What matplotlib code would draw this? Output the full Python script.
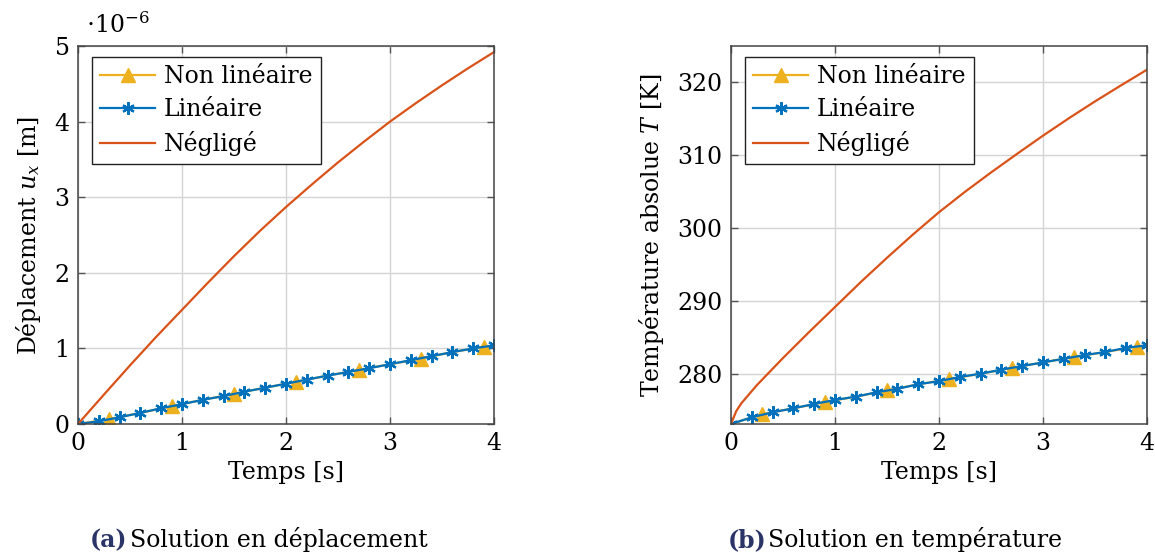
import matplotlib
matplotlib.use("Agg")
import matplotlib.pyplot as plt

plt.rcParams['font.family'] = 'DejaVu Serif'
plt.rcParams['mathtext.fontset'] = 'dejavuserif'

# temps des marqueurs "Linéaire" (pas 0.2 s)
t_lin = [0.0, 0.2, 0.4, 0.6, 0.8, 1.0, 1.2, 1.4, 1.6, 1.8, 2.0,
         2.2, 2.4, 2.6, 2.8, 3.0, 3.2, 3.4, 3.6, 3.8, 4.0]
# déplacement (x1e-6 m) et température (K)
u_lin = [0.0, 0.036, 0.089, 0.147, 0.209, 0.262, 0.32, 0.369, 0.427, 0.48, 0.533,
         0.587, 0.64, 0.689, 0.738, 0.791, 0.844, 0.898, 0.951, 1.0, 1.04]
T_lin = [273.15, 274.07, 274.76, 275.3, 275.9, 276.45, 276.9, 277.5, 277.97, 278.6, 279.03,
         279.6, 280.05, 280.6, 281.1, 281.6, 282.1, 282.6, 283.03, 283.6, 283.95]

# non linéaire (pas 0.3 s)
t_nl = [0.0, 0.3, 0.6, 0.9, 1.2, 1.5, 1.8, 2.1, 2.4, 2.7, 3.0, 3.3, 3.6, 3.9, 4.0]
u_nl = [0.0, 0.065, 0.147, 0.235, 0.32, 0.40, 0.48, 0.56, 0.64, 0.715, 0.791, 0.865, 0.951, 1.02, 1.04]
T_nl = [273.15, 274.5, 275.3, 276.15, 276.9, 277.75, 278.6, 279.3, 280.05, 280.85, 281.6,
        282.35, 283.03, 283.75, 283.95]

# négligé
t_neg_u = [0.0, 0.25, 0.5, 0.75, 1.0, 1.25, 1.5, 1.75, 2.0, 2.25, 2.5, 2.75, 3.0,
           3.25, 3.5, 3.75, 4.0]
u_neg = [0.0, 0.39, 0.775, 1.15, 1.51, 1.87, 2.22, 2.555, 2.87, 3.17, 3.46, 3.735, 4.0,
         4.245, 4.48, 4.705, 4.92]
t_neg_T = [0.0, 0.05, 0.1, 0.25, 0.5, 0.75, 1.0, 1.25, 1.5, 1.75, 2.0, 2.25, 2.5,
           2.75, 3.0, 3.25, 3.5, 3.75, 4.0]
T_neg = [273.15, 274.9, 276.0, 278.5, 282.2, 285.75, 289.2, 292.65, 295.95, 299.15, 302.2,
         305.0, 307.65, 310.2, 312.7, 315.1, 317.4, 319.6, 321.75]

c_nl = '#EDB120'
c_lin = '#0072BD'
c_neg = '#D95319'
fs = 17

fig = plt.figure(figsize=(11.55, 5.55), dpi=100)
ax1 = fig.add_axes([78 / 1155, 131 / 555, 416 / 1155, 378 / 555])
ax2 = fig.add_axes([731 / 1155, 131 / 555, 416 / 1155, 378 / 555])

for ax, y_nl, y_lin, t_neg, y_neg in [(ax1, u_nl, u_lin, t_neg_u, u_neg),
                                      (ax2, T_nl, T_lin, t_neg_T, T_neg)]:
    ax.plot(t_nl, y_nl, color=c_nl, lw=1.6, marker='^', ms=10, markevery=(1, 2),
            label='Non linéaire')
    ax.plot(t_lin, y_lin, color=c_lin, lw=1.6, marker=(6, 2, 0), ms=9, mew=1.6,
            label='Linéaire')
    ax.plot(t_neg, y_neg, color=c_neg, lw=1.6, label='Négligé')
    ax.set_xlim(0, 4)
    ax.set_xticks([0, 1, 2, 3, 4])
    ax.grid(True, color='#d4d4d4', lw=1.0)
    ax.set_axisbelow(True)
    ax.tick_params(direction='in', top=True, right=True, length=5, width=1,
                   color='#555555', labelsize=fs, pad=6)
    for s in ax.spines.values():
        s.set_color('#444444')
        s.set_linewidth(1.1)
    ax.set_xlabel('Temps [s]', fontsize=fs, labelpad=4)
    leg = ax.legend(loc='upper left', fontsize=fs, fancybox=False, framealpha=1,
                    edgecolor='#222222', handlelength=2.3, borderpad=0.35,
                    labelspacing=0.42, handletextpad=0.4, borderaxespad=0,
                    bbox_to_anchor=(0.034, 0.971))
    leg.get_frame().set_linewidth(1.0)

ax1.set_ylim(0, 5)
ax1.set_yticks([0, 1, 2, 3, 4, 5])
ax1.set_ylabel(r'Déplacement $u_x$ [m]', fontsize=fs, labelpad=8)
ax1.text(0.02, 1.02, r'$\cdot 10^{-6}$', transform=ax1.transAxes, fontsize=fs,
         ha='left', va='bottom')

ax2.set_ylim(273.15, 325)
ax2.set_yticks([280, 290, 300, 310, 320])
ax2.set_ylabel(r'Température absolue $T$ [K]', fontsize=fs, labelpad=8)

# légendes des sous-figures
fig.text(90 / 1155, 15 / 555, '(a)', color='#2B3467', fontsize=fs, fontweight='bold',
         ha='left', va='center')
fig.text(130 / 1155, 15 / 555, 'Solution en déplacement', fontsize=fs, ha='left', va='center')
fig.text(728 / 1155, 15 / 555, '(b)', color='#2B3467', fontsize=fs, fontweight='bold',
         ha='left', va='center')
fig.text(768 / 1155, 15 / 555, 'Solution en température', fontsize=fs, ha='left', va='center')

fig.savefig('out.png', dpi=100)
